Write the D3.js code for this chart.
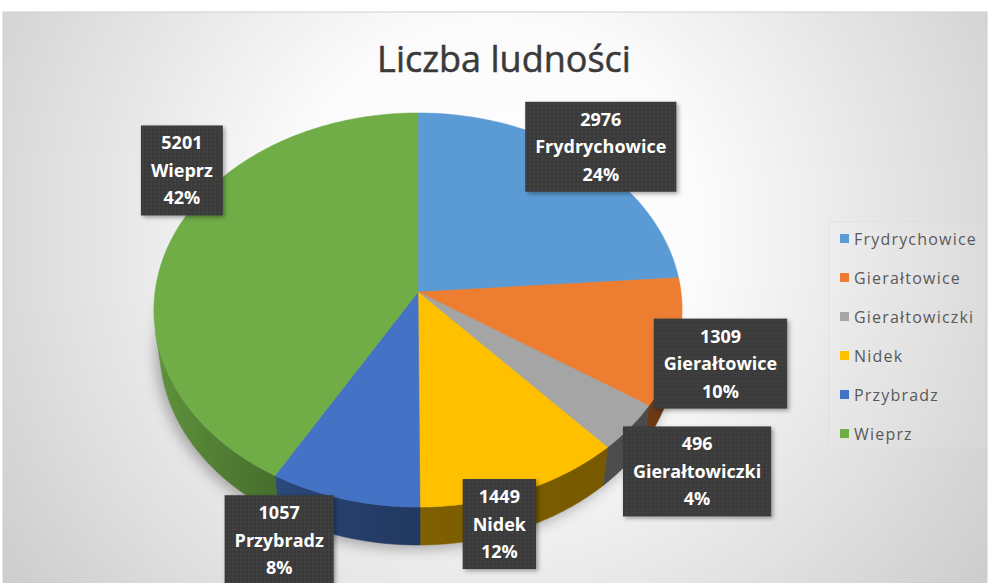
<!DOCTYPE html>
<html>
<head>
<meta charset="utf-8">
<script src="https://cdn.jsdelivr.net/npm/d3@7"></script>
<style>
body{margin:0;background:#fff;}
</style>
</head>
<body>
<div id="chart"></div>
<script>
// data
var categories = ["Frydrychowice","Gierałtowice","Gierałtowiczki","Nidek","Przybradz","Wieprz"];
var values = [2976,1309,496,1449,1057,5201];
var colors = ["#5B9BD5","#ED7D31","#A5A5A5","#FFC000","#4472C4","#70AD47"];
var title = "Liczba ludności";

// label nudges from rim point at slice mid angle (layout only)
var labelNudge = [[15,-11],[42,21],[67,44],[-23,33],[-65,41],[12,-72]];

var w = 990, h = 583;
var cx = 418, cy = 292, rad = 263;
var tilt = 48*Math.PI/180, dist = 7.33, thick = 0.229;
var F = rad*dist;

function project(theta, r, y){
	var X = r*Math.sin(theta), W = r*Math.cos(theta);
	var depth = dist + W*Math.cos(tilt) - y*Math.sin(tilt);
	var up = y*Math.cos(tilt) + W*Math.sin(tilt);
	return [cx + F*X/depth, cy - F*up/depth];
}
function arcPts(a0, a1, r, y){
	var n = Math.max(2, Math.ceil((a1-a0)/(Math.PI/360)));
	var pts = [];
	for (var i=0;i<=n;i++) pts.push(project(a0+(a1-a0)*i/n, r, y));
	return pts;
}

var svg = d3.select("#chart").append("svg")
	.attr("width",w)
	.attr("height",h);
var defs = svg.append("defs");

// background
var bg = defs.append("radialGradient").attr("id","bgGrad")
	.attr("gradientUnits","userSpaceOnUse")
	.attr("cx",495).attr("cy",230).attr("r",600);
bg.append("stop").attr("offset",0).attr("stop-color","#ffffff");
bg.append("stop").attr("offset",0.35).attr("stop-color","#fbfbfb");
bg.append("stop").attr("offset",1).attr("stop-color","#cdcdcd");

svg.append("rect")
	.attr("x",3).attr("y",12)
	.attr("width",984).attr("height",h)
	.attr("fill","url(#bgGrad)")
	.attr("stroke","#cfcfcf");

// filters
var blur = defs.append("filter").attr("id","pieShadow")
	.attr("x","-20%").attr("y","-20%").attr("width","140%").attr("height","140%");
blur.append("feGaussianBlur").attr("stdDeviation",7);

var drop = defs.append("filter").attr("id","boxShadow")
	.attr("x","-20%").attr("y","-20%").attr("width","140%").attr("height","140%");
drop.append("feDropShadow").attr("dx",2).attr("dy",2).attr("stdDeviation",2)
	.attr("flood-color","#000").attr("flood-opacity",0.35);

var pat = defs.append("pattern").attr("id","dots")
	.attr("width",4).attr("height",4)
	.attr("patternUnits","userSpaceOnUse");
pat.append("rect").attr("width",4).attr("height",4).attr("fill","#3b3b3b");
pat.append("rect").attr("x",1).attr("y",1).attr("width",1).attr("height",1).attr("fill","#515151");

// title
svg.append("text")
	.attr("x",504)
	.attr("y",72)
	.attr("text-anchor","middle")
	.attr("font-family","Open Sans")
	.attr("font-size",36)
	.attr("fill","#3a3a3a")
	.attr("stroke","#3a3a3a")
	.attr("stroke-width",0.5)
	.text(title);

var pie = d3.pie().sort(null).value(function(d){ return d; });
var arcs = pie(values);
var total = d3.sum(values);
var pct = d3.format(".0%");
var line = d3.line().curve(d3.curveLinearClosed);

// shadow under the pie
var shadowPts = arcPts(0, 2*Math.PI, 1.0, -thick).map(function(p){ return [p[0]-4, p[1]+4]; });
svg.append("path")
	.attr("d", line(shadowPts))
	.attr("fill","rgba(0,0,0,0.3)")
	.attr("filter","url(#pieShadow)");

// side shading gradients
function shade(u){
	return u < 0 ? 0.5 + 0.35*Math.pow(-u,1.5) : 0.5 - 0.05*u;
}
arcs.forEach(function(a,i){
	var g = defs.append("linearGradient").attr("id","side"+i)
		.attr("gradientUnits","userSpaceOnUse")
		.attr("x1",cx-rad).attr("x2",cx+rad).attr("y1",0).attr("y2",0);
	var c = d3.rgb(colors[i]);
	for (var k=0;k<=20;k++){
		var u = -1 + k/10, f = shade(u);
		g.append("stop").attr("offset",k/20)
			.attr("stop-color", d3.rgb(c.r*f, c.g*f, c.b*f).formatHex());
	}
});

// visible part of the rim
var vis = Math.acos(-1/(dist*Math.cos(tilt)));
var sides = svg.append("g").attr("class","sides");
arcs.forEach(function(a,i){
	var t0 = Math.max(a.startAngle, vis), t1 = Math.min(a.endAngle, 2*Math.PI-vis);
	if (t1 <= t0) return;
	var top = arcPts(t0, t1, 1, 0);
	var bot = arcPts(t0, t1, 1, -thick).reverse();
	sides.append("path")
		.attr("d", line(top.concat(bot)))
		.attr("fill","url(#side"+i+")")
		.attr("stroke","url(#side"+i+")")
		.attr("stroke-width",0.6);
});

// top faces
var tops = svg.append("g").attr("class","tops");
arcs.forEach(function(a,i){
	var pts = [project(0,0,0)].concat(arcPts(a.startAngle, a.endAngle, 1, 0));
	tops.append("path")
		.attr("d", line(pts))
		.attr("fill", colors[i])
		.attr("stroke", colors[i])
		.attr("stroke-width",0.5);
});

// data labels
var labels = svg.append("g").attr("class","labels");
arcs.forEach(function(a,i){
	var mid = (a.startAngle + a.endAngle)/2;
	var p = project(mid, 1, 0);
	var lx = p[0] + labelNudge[i][0], ly = p[1] + labelNudge[i][1];
	var lines = [values[i], categories[i], pct(values[i]/total)];
	var g = labels.append("g").attr("transform","translate("+lx+","+ly+")");
	var box = g.append("rect").attr("fill","url(#dots)").attr("filter","url(#boxShadow)");
	var maxW = 0;
	lines.forEach(function(t,j){
		var tx = g.append("text")
			.attr("x",0)
			.attr("y",(j-1)*27.5 + 6.5)
			.attr("text-anchor","middle")
			.attr("font-family","Open Sans")
			.attr("font-weight","bold")
			.attr("font-size",18)
			.attr("fill","#ffffff")
			.text(t);
		maxW = Math.max(maxW, tx.node().getComputedTextLength());
	});
	box.attr("x",-maxW/2-10).attr("y",-45)
		.attr("width",maxW+20).attr("height",90);
});

// legend
svg.append("rect")
	.attr("x",829).attr("y",222)
	.attr("width",156).attr("height",226)
	.attr("fill","#ffffff").attr("fill-opacity",0.07)
	.attr("stroke","#d6d6d6").attr("stroke-opacity",0.4);
var legend = svg.selectAll(".legend")
	.data(categories)
	.enter().append("g")
	.attr("class","legend")
	.attr("transform",function(d,i){ return "translate(840,"+(239+i*39)+")"; });
legend.append("rect")
	.attr("x",0).attr("y",-5)
	.attr("width",9).attr("height",9)
	.attr("fill",function(d,i){ return colors[i]; });
legend.append("text")
	.attr("x",14)
	.attr("y",5.5)
	.attr("font-family","Open Sans")
	.attr("font-size",16)
	.attr("letter-spacing",1.2)
	.attr("fill","#595959")
	.text(function(d){ return d; });
</script>
</body>
</html>
